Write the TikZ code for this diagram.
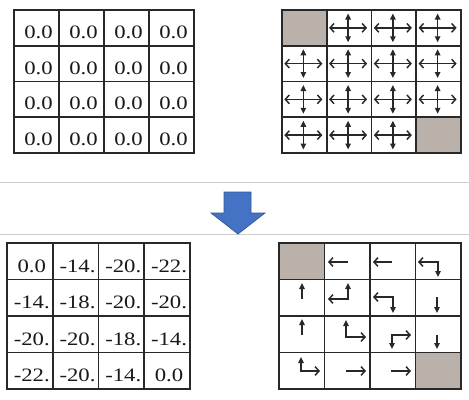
\documentclass[tikz,border=0pt]{standalone}
\usepackage{fontspec}
\setmainfont{Liberation Serif}
\newfontfamily\cellfont[FakeStretch=1.2]{Liberation Serif}
\usetikzlibrary{arrows.meta}

\definecolor{gridgray}{RGB}{40,40,40}
\definecolor{goalfill}{RGB}{186,177,170}
\definecolor{rulegray}{RGB}{205,205,205}
\definecolor{arrowblue}{RGB}{68,114,196}

\tikzset{
  gridline/.style={draw=gridgray,line width=1.3pt,line cap=rect},
  goal/.style={fill=goalfill},
  cellval/.style={anchor=base,inner sep=0pt,text=black!90,font=\cellfont\fontsize{14.2}{16}\selectfont},
  pol/.style={draw=gridgray,line width=1.1pt},
  chev/.tip={Straight Barb[length=3pt,width=6.6pt]},
  tri/.tip={Triangle[length=4.5pt,width=4pt]},
}

\begin{document}
\begin{tikzpicture}[x=0.75pt,y=0.75pt,yscale=-1,xscale=1]
\useasboundingbox (0,0) rectangle (469,400);

%Separator lines
\draw [rulegray,line width=0.7pt] (0,182) -- (469,182) ;
\draw [rulegray,line width=0.7pt] (0,234) -- (469,234) ;

%Down arrow
\draw [fill=arrowblue,draw=arrowblue!75!black,line width=0.5pt] (224,192) -- (251,192) -- (251,213) -- (265,213) -- (238,234) -- (211,213) -- (224,213) -- cycle ;

%Terminal cells
\fill [goal] (282,10) rectangle (327,46) ;
\fill [goal] (416,117) rectangle (461,153) ;
\fill [goal] (279,243) rectangle (324,280) ;
\fill [goal] (415,353) rectangle (461,389) ;

%Grids
\foreach \gx/\gy/\cw/\ch in {14/10/45/35.75, 282/10/44.75/35.75, 7/243/45.75/36.5, 279/243/45.5/36.5}{
  \foreach \i in {0,...,4}{
    \draw [gridline] (\gx+\i*\cw,\gy) -- (\gx+\i*\cw,\gy+4*\ch) ;
    \draw [gridline] (\gx,\gy+\i*\ch) -- (\gx+4*\cw,\gy+\i*\ch) ;
  }
}

% Text Node
\foreach \r in {1,...,4}
  \foreach \c in {1,...,4}
    \node [cellval] (v0-\r-\c) at (14+\c*45-20.5,10+\r*35.75-7.5) {0.0};

% Text Node
\foreach \row [count=\r] in {{0.0,-14.,-20.,-22.},{-14.,-18.,-20.,-20.},{-20.,-20.,-18.,-14.},{-22.,-20.,-14.,0.0}}
  \foreach \v [count=\c] in \row
    \node [cellval] (vk-\r-\c) at (7+\c*45.75-21,243+\r*36.5-7.5) {\v};

%Random policy
\foreach \r/\c in {1/2,1/3,1/4,2/1,2/2,2/3,2/4,3/1,3/2,3/3,3/4,4/1,4/2,4/3}{
  \draw [pol,chev-chev] (282+\c*44.75-22.4-20,10+\r*35.75-17.9) -- (282+\c*44.75-22.4+18,10+\r*35.75-17.9) ;
  \draw [pol,tri-tri] (282+\c*44.75-23.4,10+\r*35.75-35.75+3.5) -- (282+\c*44.75-23.4,10+\r*35.75-3.5) ;
}

%Greedy policy
\draw [pol,-chev] (348,262) -- (328,262) ;
\draw [pol,-chev] (392,262) -- (373,262) ;
\draw [pol,chev-tri] (418,262) -- (438,262) -- (438,277) ;
\draw [pol,-tri] (302,299) -- (302,283) ;
\draw [pol,chev-tri] (328,299) -- (348,299) -- (348,283) ;
\draw [pol,chev-tri] (373,297) -- (393,297) -- (393,313) ;
\draw [pol,-tri] (437,297) -- (437,313) ;
\draw [pol,-tri] (302,335) -- (302,319) ;
\draw [pol,tri-chev] (346,320) -- (346,337) -- (366,337) ;
\draw [pol,chev-tri] (411,335) -- (392,335) -- (392,349) ;
\draw [pol,-tri] (437,335) -- (437,349) ;
\draw [pol,tri-chev] (301,357) -- (301,371) -- (320,371) ;
\draw [pol,-chev] (346,371) -- (366,371) ;
\draw [pol,-chev] (391,371) -- (411,371) ;

\end{tikzpicture}
\end{document}
